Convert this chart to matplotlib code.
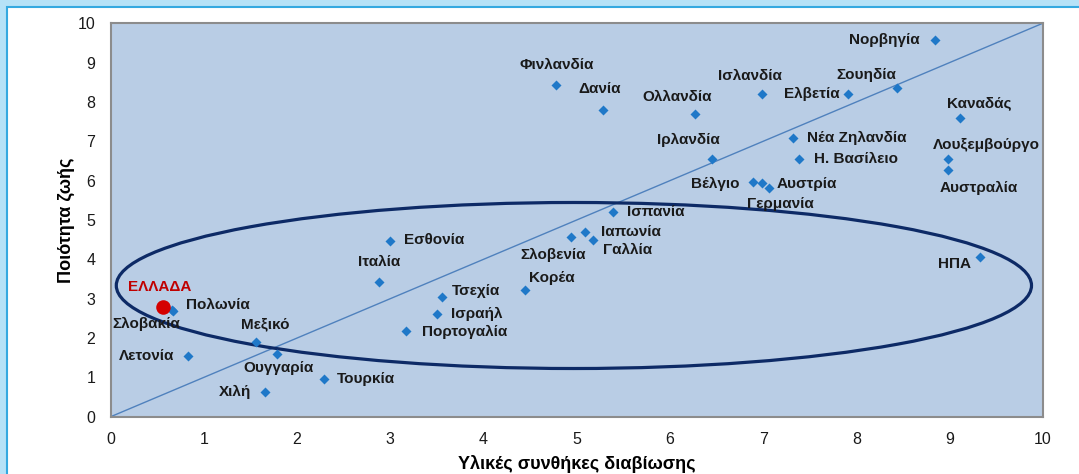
import matplotlib.pyplot as plt
from matplotlib.patches import Ellipse, Rectangle

plt.rcParams["font.family"] = ["Liberation Sans", "DejaVu Sans"]

# data
countries = [
    "Νορβηγία", "Φινλανδία", "Δανία", "Ολλανδία", "Ισλανδία", "Ελβετία",
    "Σουηδία", "Καναδάς", "Ιρλανδία", "Νέα Ζηλανδία", "Η. Βασίλειο",
    "Λουξεμβούργο", "Αυστραλία", "Βέλγιο", "Αυστρία", "Γερμανία",
    "Ισπανία", "Ιαπωνία", "Γαλλία", "Σλοβενία", "Εσθονία", "Ιταλία",
    "Κορέα", "Τσεχία", "Ισραήλ", "Πορτογαλία", "ΗΠΑ", "Πολωνία",
    "Σλοβακία", "Λετονία", "Μεξικό", "Ουγγαρία", "Τουρκία", "Χιλή",
]
material = [
    8.84, 4.78, 5.28, 6.27, 6.99, 7.91,
    8.44, 9.11, 6.45, 7.32, 7.38,
    8.98, 8.98, 6.89, 6.99, 7.06,
    5.39, 5.09, 5.17, 4.94, 3.00, 2.88,
    4.44, 3.55, 3.50, 3.17, 9.33, 0.67,
    0.66, 0.83, 1.56, 1.78, 2.29, 1.66,
]
quality = [
    9.58, 8.43, 7.80, 7.69, 8.20, 8.20,
    8.35, 7.59, 6.55, 7.08, 6.55,
    6.55, 6.27, 5.97, 5.93, 5.82,
    5.21, 4.70, 4.49, 4.58, 4.47, 3.43,
    3.22, 3.05, 2.61, 2.19, 4.05, 2.69,
    2.70, 1.55, 1.91, 1.59, 0.95, 0.64,
]
greece_label = "ΕΛΛΑΔΑ"
greece_x = [0.56]
greece_y = [2.80]

# label placement: (dx px, dy px, ha)
label_pos = {
    "Νορβηγία": (-15, 0, "right"), "Φινλανδία": (0, 20, "center"),
    "Δανία": (-3, 21, "center"), "Ολλανδία": (-18, 17, "center"),
    "Ισλανδία": (-12, 18, "center"), "Ελβετία": (-8, 0, "right"),
    "Σουηδία": (-31, 13, "center"), "Καναδάς": (19, 15, "center"),
    "Ιρλανδία": (-23, 19, "center"), "Νέα Ζηλανδία": (14, 0, "left"),
    "Η. Βασίλειο": (15, 0, "left"), "Λουξεμβούργο": (39, 14, "center"),
    "Αυστραλία": (31, -18, "center"), "Βέλγιο": (-13, -2, "right"),
    "Αυστρία": (14, -1, "left"), "Γερμανία": (12, -16, "center"),
    "Ισπανία": (14, 0, "left"), "Ιαπωνία": (16, 0, "left"),
    "Γαλλία": (10, -10, "left"), "Σλοβενία": (-18, -18, "center"),
    "Εσθονία": (14, 1, "left"), "Ιταλία": (0, 20, "center"),
    "Κορέα": (27, 12, "center"), "Τσεχία": (10, 6, "left"),
    "Ισραήλ": (14, 0, "left"), "Πορτογαλία": (16, -1, "left"),
    "ΗΠΑ": (-9, -7, "right"), "Πολωνία": (13, 6, "left"),
    "Σλοβακία": (-26, -13, "center"), "Λετονία": (-14, 0, "right"),
    "Μεξικό": (9, 17, "center"), "Ουγγαρία": (2, -14, "center"),
    "Τουρκία": (13, 0, "left"), "Χιλή": (-14, 0, "right"),
}

fig = plt.figure(figsize=(10.79, 4.74), dpi=100)
fig.patch.set_facecolor("#b6e2f7")
# white panel with blue edge
panel = Rectangle((7 / 1079, -0.05), 1.1, 1 - 7 / 474 + 0.05,
                  transform=fig.transFigure, facecolor="white",
                  edgecolor="#35a9e0", linewidth=1.5, zorder=-10)
fig.add_artist(panel)

ax = fig.add_axes([110.7 / 1079, 57.3 / 474, 932 / 1079, 393.4 / 474])
ax.set_facecolor("#b9cde5")
for s in ax.spines.values():
    s.set_color("#8c8c8c")
    s.set_linewidth(1.5)

ax.plot([0, 10], [0, 10], color="#4f81bd", linewidth=1, zorder=1)
ax.add_patch(Ellipse((4.97, 3.335), 9.82, 4.22, fill=False,
                     edgecolor="#0d2a66", linewidth=2.3, zorder=2))

ax.scatter(material, quality, marker="D", s=26, color="#1f78c8",
           linewidths=0, zorder=3)
ax.scatter(greece_x, greece_y, marker="o", s=110, color="#d40000",
           linewidths=0, zorder=4)

for name, x, y in zip(countries, material, quality):
    dx, dy, ha = label_pos[name]
    ax.annotate(name, (x, y), xytext=(dx, dy), textcoords="offset pixels",
                ha=ha, va="center", fontsize=11, fontweight="bold",
                color="#1a1a1a", zorder=5)
ax.annotate(greece_label, (greece_x[0], greece_y[0]), xytext=(-3, 20),
            textcoords="offset pixels", ha="center", va="center",
            fontsize=11, fontweight="bold", color="#c00000", zorder=5)

ax.set_xlim(0, 10)
ax.set_ylim(0, 10)
ax.set_xticks(range(0, 11))
ax.set_yticks(range(0, 11))
ax.tick_params(length=0, labelsize=11.5, colors="#1a1a1a")
ax.tick_params(axis="x", pad=11)
ax.tick_params(axis="y", pad=11)

ax.set_xlabel("Υλικές συνθήκες διαβίωσης", fontsize=13, fontweight="bold",
              labelpad=6)
ax.set_ylabel("Ποιότητα ζωής", fontsize=13, fontweight="bold", labelpad=2)

fig.savefig("out.png", dpi=100)
